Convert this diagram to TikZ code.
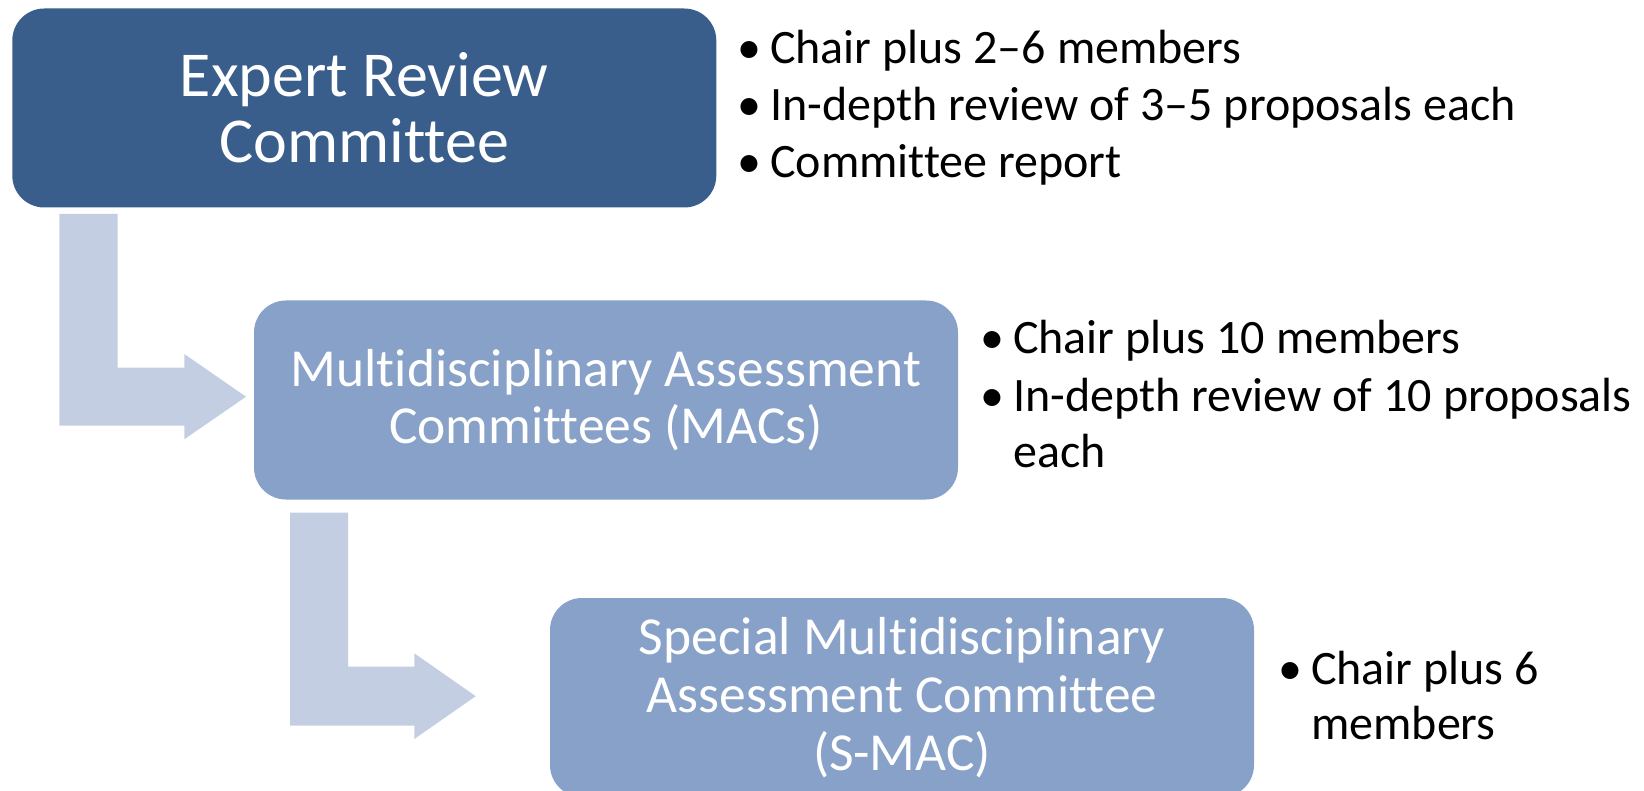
\documentclass[tikz,border=0pt]{standalone}
\usepackage{fontspec}
\setmainfont{Carlito}[RawFeature={-liga}]
\definecolor{darkbox}{HTML}{3A5E8B}
\definecolor{lightbox}{HTML}{87A1C8}
\definecolor{flow}{HTML}{C3CEE3}
\begin{document}
\begin{tikzpicture}[x=1pt,y=-1pt,
  box/.style={rounded corners=32pt, minimum width=704pt, minimum height=199pt,
    inner sep=0pt, align=center, text=white},
  bigtext/.style={font=\fontsize{64}{66}\selectfont},
  midtext/.style={font=\fontsize{53.5}{57.7}\selectfont},
  pointtext/.style={font=\fontsize{48}{56}\selectfont, anchor=base west, inner sep=0pt},
  dot/.style={font=\fontsize{48}{56}\selectfont, anchor=base west, inner sep=0pt},
  flowarrow/.style={fill=flow, draw=none}]
\useasboundingbox (0,0) rectangle (1644,791);

% committee boxes
\node[box, fill=darkbox, bigtext] (erc) at (364.3,108) {Expert Review\\Committee};
\node[box, fill=lightbox, midtext] (mac) at (606,400) {Multidisciplinary Assessment\\Committees (MACs)};
\node[box, fill=lightbox, midtext] (smac) at (902,697.5) {Special Multidisciplinary\\Assessment Committee\\(S-MAC)};

% bent flow arrows between the levels
\fill[flowarrow] (59.3,214) -- (117.7,214) -- (117.7,367.7) -- (184.3,367.7) -- (184.3,354)
  -- (246,396.7) -- (184.3,439.3) -- (184.3,425.7) -- (59.3,425.7) -- cycle;
\fill[flowarrow] (290,512.7) -- (348,512.7) -- (348,666.7) -- (414.3,666.7) -- (414.3,653.3)
  -- (475.7,696.2) -- (414.3,739) -- (414.3,725.7) -- (290,725.7) -- cycle;

% notes beside the expert review committee
\node[dot] (b1) at (737,64) {•};
\node[pointtext] (t1) at (770,64) {Chair plus 2–6 members};
\node[dot] (b2) at (737,121) {•};
\node[pointtext] (t2) at (770,121) {In-depth review of 3–5 proposals each};
\node[dot] (b3) at (737,178) {•};
\node[pointtext] (t3) at (770,178) {Committee report};

% notes beside the MACs
\node[dot] (b4) at (980,354) {•};
\node[pointtext] (t4) at (1013,354) {Chair plus 10 members};
\node[dot] (b5) at (980,412) {•};
\node[pointtext] (t5) at (1013,412) {In-depth review of 10 proposals};
\node[pointtext] (t5b) at (1013,467) {each};

% notes beside the S-MAC
\node[dot] (b6) at (1278,684) {•};
\node[pointtext] (t6) at (1311,684) {Chair plus 6};
\node[pointtext] (t6b) at (1311,739) {members};
\end{tikzpicture}
\end{document}
